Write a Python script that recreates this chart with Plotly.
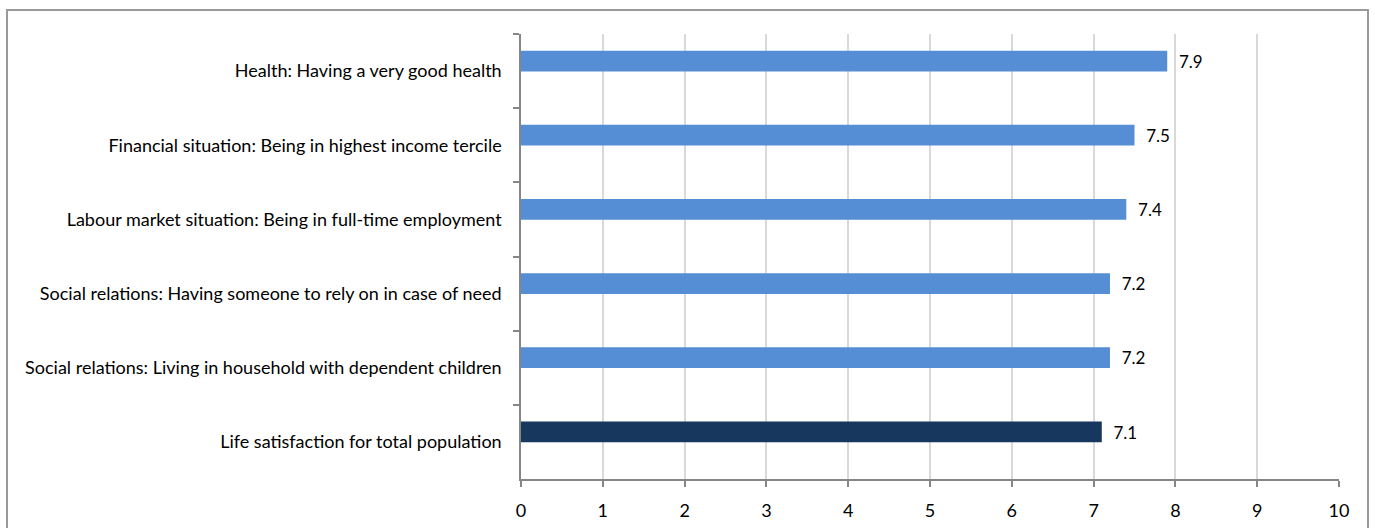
import plotly.graph_objects as go

categories = [
    "Health: Having a very good health",
    "Financial situation: Being in highest income tercile",
    "Labour market situation: Being in full-time employment",
    "Social relations: Having someone to rely on in case of need",
    "Social relations: Living in household with dependent children",
    "Life satisfaction for total population",
]
values = [7.9, 7.5, 7.4, 7.2, 7.2, 7.1]
labels = ["7.9", "7.5", "7.4", "7.2", "7.2", "7.1"]
colors = ["#558ED5"] * 5 + ["#17375E"]
x_ticks = list(range(0, 11))

W, H = 1375, 528
L, R, T, B = 521, 36, 34, 49
pw, ph = W - L - R, H - T - B

fig = go.Figure(go.Bar(
    x=values, y=categories, orientation="h",
    marker=dict(color=colors, line=dict(width=0)),
    text=["  " + t for t in labels], textposition="outside",
    textfont=dict(family="Lato, Open Sans, sans-serif", size=18, color="#000000"),
    cliponaxis=False, width=0.28, offset=-0.275,
))

fig.update_layout(
    width=W, height=H,
    margin=dict(l=L, r=R, t=T, b=B, autoexpand=False),
    paper_bgcolor="white", plot_bgcolor="white",
    showlegend=False,
    font=dict(family="Lato, Open Sans, sans-serif", size=18, color="#000000"),
    xaxis=dict(
        range=[0, 10], tickvals=x_ticks, ticktext=[str(v) for v in x_ticks],
        showgrid=True, gridcolor="#D9D9D9", gridwidth=1.5,
        showline=True, linecolor="#868686", linewidth=1.5,
        ticks="outside", ticklen=6, tickcolor="#868686", tickwidth=1.5,
        zeroline=False, tickfont=dict(size=18), ticklabelstandoff=9,
        automargin=False,
    ),
    yaxis=dict(
        autorange="reversed", type="category",
        showline=True, linecolor="#868686", linewidth=1.5,
        ticks="outside", ticklen=6, tickcolor="#868686", tickwidth=1.5,
        tickson="boundaries", showgrid=False, ticklabelstandoff=14,
        tickfont=dict(size=18), automargin=False,
    ),
    shapes=[dict(
        type="rect", xref="paper", yref="paper",
        x0=(7 - L) / pw, x1=(1368 - L) / pw,
        y0=(H - B - 540) / ph, y1=(H - B - 10) / ph,
        line=dict(color="#9A9A9A", width=2), layer="below",
    )],
)

fig.write_html("out.html")
